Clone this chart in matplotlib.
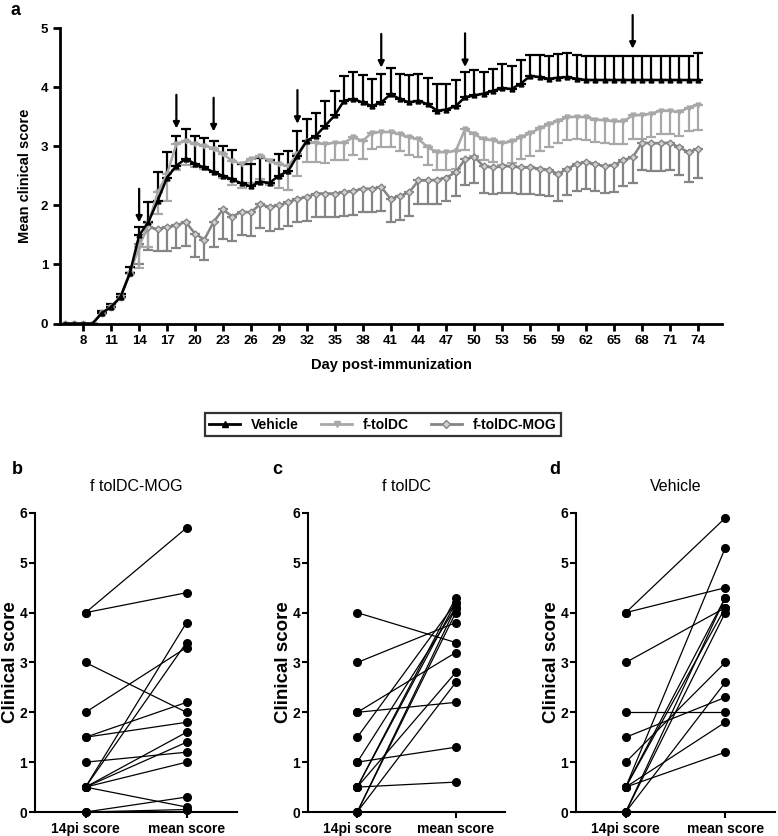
import numpy as np
import matplotlib
matplotlib.use('Agg')
import matplotlib.pyplot as plt
from matplotlib.lines import Line2D

plt.rcParams['font.family'] = ['Liberation Sans', 'DejaVu Sans']

# ---- panel a: mean clinical score per day ----
days = list(range(6, 75))

vehicle = [0, 0, 0, 0, 0.18, 0.28, 0.45, 0.85, 1.49, 1.72, 2.08, 2.47, 2.67, 2.79,
           2.70, 2.64, 2.56, 2.50, 2.44, 2.37, 2.32, 2.40, 2.38, 2.50, 2.58, 2.84,
           3.09, 3.18, 3.35, 3.52, 3.77, 3.80, 3.74, 3.68, 3.74, 3.88, 3.80, 3.74,
           3.77, 3.71, 3.60, 3.62, 3.68, 3.83, 3.86, 3.89, 3.94, 3.98, 3.97, 4.06,
           4.19, 4.17, 4.14, 4.16, 4.17, 4.14, 4.12, 4.12, 4.12, 4.12, 4.12, 4.12,
           4.12, 4.12, 4.12, 4.12, 4.12, 4.12, 4.12]
vehicle_sem = [0, 0, 0, 0, 0.03, 0.05, 0.05, 0.10, 0.14, 0.33, 0.48, 0.43, 0.50, 0.50,
               0.48, 0.50, 0.52, 0.50, 0.50, 0.33, 0.38, 0.40, 0.38, 0.37, 0.34, 0.42,
               0.37, 0.39, 0.42, 0.42, 0.42, 0.45, 0.46, 0.46, 0.48, 0.45, 0.42, 0.46,
               0.45, 0.45, 0.46, 0.44, 0.44, 0.42, 0.43, 0.36, 0.37, 0.41, 0.38, 0.40,
               0.36, 0.38, 0.38, 0.40, 0.40, 0.41, 0.41, 0.41, 0.41, 0.41, 0.41, 0.41,
               0.41, 0.41, 0.41, 0.41, 0.41, 0.41, 0.45]

ftoldc = [0, 0, 0, 0, 0.18, 0.28, 0.45, 0.85, 1.30, 1.70, 2.22, 2.53, 3.04, 3.09,
          3.04, 3.01, 2.96, 2.87, 2.75, 2.70, 2.78, 2.84, 2.75, 2.70, 2.66, 2.87,
          3.09, 3.05, 3.04, 3.06, 3.06, 3.15, 3.09, 3.23, 3.24, 3.24, 3.20, 3.15,
          3.12, 2.98, 2.90, 2.90, 2.92, 3.29, 3.20, 3.12, 3.10, 3.05, 3.08, 3.15,
          3.22, 3.30, 3.37, 3.43, 3.49, 3.50, 3.49, 3.45, 3.44, 3.42, 3.42, 3.52,
          3.53, 3.55, 3.60, 3.60, 3.58, 3.65, 3.70]
ftoldc_sem = [0, 0, 0, 0, 0, 0, 0, 0, 0.36, 0.40, 0.36, 0.45, 0.45, 0.40,
              0.40, 0.40, 0.40, 0.40, 0.40, 0.40, 0.40, 0.40, 0.40, 0.40, 0.40, 0.37,
              0.36, 0.32, 0.32, 0.30, 0.30, 0.30, 0.30, 0.28, 0.26, 0.26, 0.28, 0.30,
              0.30, 0.30, 0.30, 0.30, 0.30, 0.35, 0.36, 0.36, 0.36, 0.36, 0.36, 0.36,
              0.38, 0.38, 0.38, 0.38, 0.38, 0.38, 0.38, 0.38, 0.38, 0.38, 0.38, 0.40,
              0.40, 0.40, 0.40, 0.40, 0.40, 0.40, 0.42]

ftoldc_mog = [0, 0, 0, 0, 0.18, 0.28, 0.45, 0.85, 1.35, 1.63, 1.60, 1.63, 1.66, 1.72,
              1.52, 1.42, 1.72, 1.93, 1.81, 1.89, 1.88, 2.02, 1.97, 2.00, 2.05, 2.11,
              2.14, 2.20, 2.20, 2.20, 2.22, 2.24, 2.28, 2.28, 2.31, 2.11, 2.16, 2.22,
              2.42, 2.42, 2.43, 2.47, 2.56, 2.78, 2.82, 2.66, 2.64, 2.66, 2.66, 2.64,
              2.64, 2.62, 2.60, 2.53, 2.62, 2.70, 2.73, 2.70, 2.66, 2.68, 2.77, 2.81,
              3.06, 3.05, 3.05, 3.06, 2.98, 2.90, 2.96]
ftoldc_mog_sem = [0, 0, 0, 0, 0, 0, 0, 0, 0.35, 0.39, 0.38, 0.40, 0.38, 0.40,
                  0.39, 0.35, 0.42, 0.50, 0.42, 0.40, 0.40, 0.40, 0.40, 0.40, 0.40, 0.40,
                  0.40, 0.40, 0.40, 0.40, 0.40, 0.40, 0.40, 0.40, 0.40, 0.40, 0.40, 0.40,
                  0.40, 0.40, 0.40, 0.40, 0.40, 0.44, 0.44, 0.45, 0.45, 0.45, 0.45, 0.45,
                  0.45, 0.45, 0.45, 0.45, 0.45, 0.45, 0.45, 0.45, 0.45, 0.45, 0.44, 0.44,
                  0.47, 0.47, 0.47, 0.47, 0.47, 0.50, 0.50]

# treatment days (arrows) and where the arrow tips sit
arrow_days = [14, 18, 22, 31, 40, 49, 67]
arrow_tips = [1.71, 3.30, 3.25, 3.38, 4.33, 4.34, 4.65]

# ---- panels b-d: 14pi score vs mean score for each mouse ----
cats = ['14pi score', 'mean score']
mog_14 = [4, 4, 3, 2, 1.5, 1.5, 1, 0.5, 0.5, 0.5, 0.5, 0.5, 0.5, 0, 0]
mog_mean = [5.7, 4.4, 2.0, 3.3, 2.2, 1.8, 1.2, 3.8, 3.4, 1.6, 1.4, 1.0, 0.1, 0.3, 0.05]
tol_14 = [4, 3, 2, 2, 1.5, 1, 1, 0.5, 0.5, 0.5, 0.5, 0, 0, 0]
tol_mean = [3.4, 3.8, 3.2, 2.2, 4.2, 1.3, 4.1, 0.6, 4.3, 4.2, 2.8, 4.1, 2.6, 4.0]
veh_14 = [4, 4, 3, 2, 1.5, 1, 0.5, 0.5, 0.5, 0.5, 0.5, 0, 0, 0]
veh_mean = [5.9, 4.5, 4.1, 2.0, 2.3, 3.0, 5.3, 4.3, 4.1, 1.8, 1.2, 4.0, 2.6, 4.3]

W, H = 778, 836
fig = plt.figure(figsize=(W / 100, H / 100), dpi=100)

ax = fig.add_axes([0.0771, 0.613, 0.851, 0.3535])
series = [
    ('Vehicle', vehicle, vehicle_sem, 'black', '^', 'up'),
    ('f-tolDC', ftoldc, ftoldc_sem, '#a8a8a8', 'v', 'down'),
    ('f-tolDC-MOG', ftoldc_mog, ftoldc_mog_sem, '#858585', 'D', 'down'),
]
handles = []
for name, m, s, col, mk, way in series[::-1]:
    m = np.array(m)
    s = np.array(s)
    if way == 'up':
        yerr = [np.zeros_like(s), s]
    else:
        yerr = [s, np.zeros_like(s)]
    fill = '#d0d0d0' if mk == 'D' else col
    ax.errorbar(days, m, yerr=yerr, color=col, marker=mk, ms=3.5, lw=1.8,
                elinewidth=1.6, capsize=3.5, capthick=1.6, mfc=fill, mec=col)
    handles.append(Line2D([], [], color=col, marker=mk, ms=4.5, lw=2,
                          mfc=fill, mec=col))
handles = handles[::-1]

for d, t in zip(arrow_days, arrow_tips):
    ax.annotate('', xy=(d, t), xytext=(d, t + 0.57), annotation_clip=False,
                arrowprops=dict(arrowstyle='-|>', color='black', lw=1.6,
                                mutation_scale=9, shrinkA=0, shrinkB=0))

ax.set_xlim(5.5, 76.6)
ax.set_ylim(0, 5)
ax.set_xticks(range(8, 75, 3))
ax.set_yticks(range(0, 6))
ax.spines['top'].set_visible(False)
ax.spines['right'].set_visible(False)
for sp in ['left', 'bottom']:
    ax.spines[sp].set_linewidth(2)
ax.tick_params(width=2, length=5, labelsize=9.5)
for lab in ax.get_xticklabels() + ax.get_yticklabels():
    lab.set_fontweight('bold')
ax.set_ylabel('Mean clinical score', fontsize=10.5, fontweight='bold', labelpad=6)
ax.set_xlabel('Day post-immunization', fontsize=10.5, fontweight='bold', labelpad=8)
fig.text(0.013, 0.998, 'a', fontsize=13, fontweight='bold', va='top')

leg = fig.legend(handles, [s[0] for s in series], loc='center',
                 bbox_to_anchor=(0.4923, 0.4922), ncol=3, frameon=True,
                 fancybox=False, edgecolor='black',
                 prop={'weight': 'bold', 'size': 10}, handlelength=2.2,
                 columnspacing=1.6, borderpad=0.35)
leg.get_frame().set_linewidth(1.6)

# ---- bottom panels (pixel boxes: left, width) ----
panels = [
    ('b', 'f tolDC-MOG', mog_14, mog_mean, 35, 202, 12),
    ('c', 'f tolDC', tol_14, tol_mean, 308, 197, 272),
    ('d', 'Vehicle', veh_14, veh_mean, 576, 199, 549),
]
for letter, title, pre, post, left, width, lx in panels:
    bx = fig.add_axes([left / W, 0.0287, width / W, 0.3577])
    for a, b in zip(pre, post):
        bx.plot([0, 1], [a, b], color='black', lw=0.9, marker='o', ms=5.5,
                clip_on=False, zorder=3)
    bx.set_xlim(-0.5, 1.5)
    bx.set_ylim(0, 6)
    bx.set_xticks([0, 1])
    bx.set_xticklabels(cats)
    bx.set_yticks(range(0, 7))
    bx.spines['top'].set_visible(False)
    bx.spines['right'].set_visible(False)
    for sp in ['left', 'bottom']:
        bx.spines[sp].set_linewidth(1.5)
    bx.tick_params(width=1.5, length=4, labelsize=10)
    bx.tick_params(axis='y', pad=1.5)
    for lab in bx.get_xticklabels() + bx.get_yticklabels():
        lab.set_fontweight('bold')
    bx.set_ylabel('Clinical score', fontsize=13.5, fontweight='bold')
    bx.yaxis.set_label_coords(-15.5 / width, 0.5)
    bx.set_title(title, fontsize=11.5, pad=16)
    fig.text(lx / W, 0.449, letter, fontsize=13, fontweight='bold', va='top')

fig.savefig('out.png', dpi=100)
